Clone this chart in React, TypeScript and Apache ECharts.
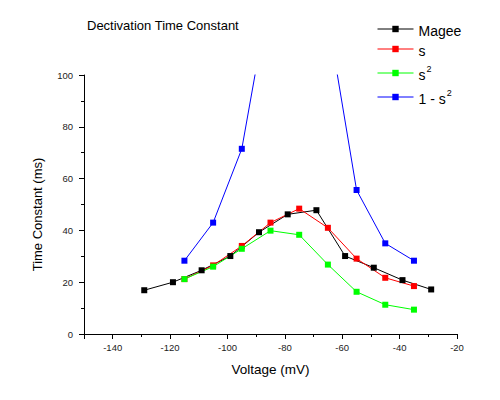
import React, { useEffect, useRef } from "react";
import * as echarts from "echarts";

// Deactivation time constants (ms) versus membrane voltage (mV)
const mageeVoltage = [-129, -119, -109, -99, -89, -79, -69, -59, -49, -39, -29];
const mageeTau = [16.9, 20.0, 24.6, 30.1, 39.3, 46.2, 47.8, 30.1, 25.6, 20.8, 17.2];

const modelVoltage = [-115, -105, -95, -85, -75, -65, -55, -45, -35];
const sTau = [21.2, 26.5, 34.0, 43.0, 48.4, 41.0, 29.1, 21.7, 18.5];
const s2Tau = [21.2, 26.0, 32.9, 39.9, 38.3, 26.8, 16.3, 11.3, 9.4];

// 1 - s² runs off the top of the axis between -90 and -62 mV
const oneMinusS2Voltage = [-115, -105, -95, -85, -65, -55, -45, -35];
const oneMinusS2Tau = [28.3, 43.0, 71.5, 133.5, 122.0, 55.6, 35.0, 28.3];

const seriesNames = ["Magee", "s", "s2", "1 - s2"];
const seriesColors = ["#000000", "#ff0000", "#00ff00", "#0000ff"];

const pairs = (xs: number[], ys: number[]) => xs.map((x, i) => [x, ys[i]]);

const FONT = "Liberation Sans, Arial, sans-serif";

export default function App() {
  const ref = useRef<HTMLDivElement>(null);

  useEffect(() => {
    if (!ref.current) return;
    const chart = echarts.init(ref.current, undefined, { renderer: "svg" });

    const datasets = [
      pairs(mageeVoltage, mageeTau),
      pairs(modelVoltage, sTau),
      pairs(modelVoltage, s2Tau),
      pairs(oneMinusS2Voltage, oneMinusS2Tau),
    ];

    chart.setOption({
      animation: false,
      backgroundColor: "#ffffff",
      textStyle: { fontFamily: FONT },
      title: {
        text: "Dectivation Time Constant",
        left: 82,
        top: 14,
        textStyle: { fontFamily: FONT, fontSize: 13, fontWeight: "normal", color: "#000" },
      },
      legend: {
        orient: "vertical",
        left: 372,
        top: 19,
        itemWidth: 36,
        itemHeight: 8,
        itemGap: 6,
        data: seriesNames,
        lineStyle: { width: 1 },
        formatter: (name: string) =>
          name === "s2" ? "{b|s}{sup|2}" : name === "1 - s2" ? "{b|1 - s}{sup|2}" : "{b|" + name + "}",
        textStyle: {
          fontFamily: FONT,
          color: "#000",
          rich: {
            b: { fontFamily: FONT, fontSize: 14, color: "#000", lineHeight: 18, verticalAlign: "bottom" },
            sup: { fontFamily: FONT, fontSize: 9, color: "#000", lineHeight: 18, verticalAlign: "top", padding: [0, 0, 0, 1] },
          },
        },
      },
      grid: { left: 84, right: 43, top: 75, bottom: 66, containLabel: false },
      xAxis: {
        type: "value",
        min: -150,
        max: -20,
        splitNumber: 6,
        name: "Voltage (mV)",
        nameLocation: "middle",
        nameGap: 28,
        nameTextStyle: { fontFamily: FONT, fontSize: 13.5, color: "#000" },
        axisLine: { show: true, onZero: false, lineStyle: { color: "#000", width: 1 } },
        axisTick: { show: true, inside: false, length: 5, lineStyle: { color: "#000" } },
        minorTick: { show: true, splitNumber: 2, length: 3, lineStyle: { color: "#000" } },
        axisLabel: { showMinLabel: false, margin: 8, fontFamily: FONT, fontSize: 9.5, color: "#222" },
        splitLine: { show: false },
      },
      yAxis: {
        type: "value",
        min: 0,
        max: 100,
        interval: 20,
        name: "Time Constant (ms)",
        nameLocation: "middle",
        nameGap: 40,
        nameTextStyle: { fontFamily: FONT, fontSize: 13, color: "#000", padding: [0, 20, 0, 0] },
        axisLine: { show: true, lineStyle: { color: "#000", width: 1 } },
        axisTick: { show: true, inside: false, length: 5, lineStyle: { color: "#000" } },
        minorTick: { show: true, splitNumber: 2, length: 3, lineStyle: { color: "#000" } },
        axisLabel: { margin: 11, fontFamily: FONT, fontSize: 9.5, color: "#222" },
        splitLine: { show: false },
      },
      series: datasets.map((data, i) => ({
        name: seriesNames[i],
        type: "line",
        data,
        clip: true,
        symbol: "rect",
        symbolSize: 6,
        itemStyle: { color: seriesColors[i] },
        lineStyle: { color: seriesColors[i], width: 1 },
        emphasis: { disabled: true },
      })),
    });

    return () => chart.dispose();
  }, []);

  return (
    <div
      ref={ref}
      style={{ position: "fixed", left: 0, top: 0, width: 500, height: 400, background: "#fff" }}
    />
  );
}
